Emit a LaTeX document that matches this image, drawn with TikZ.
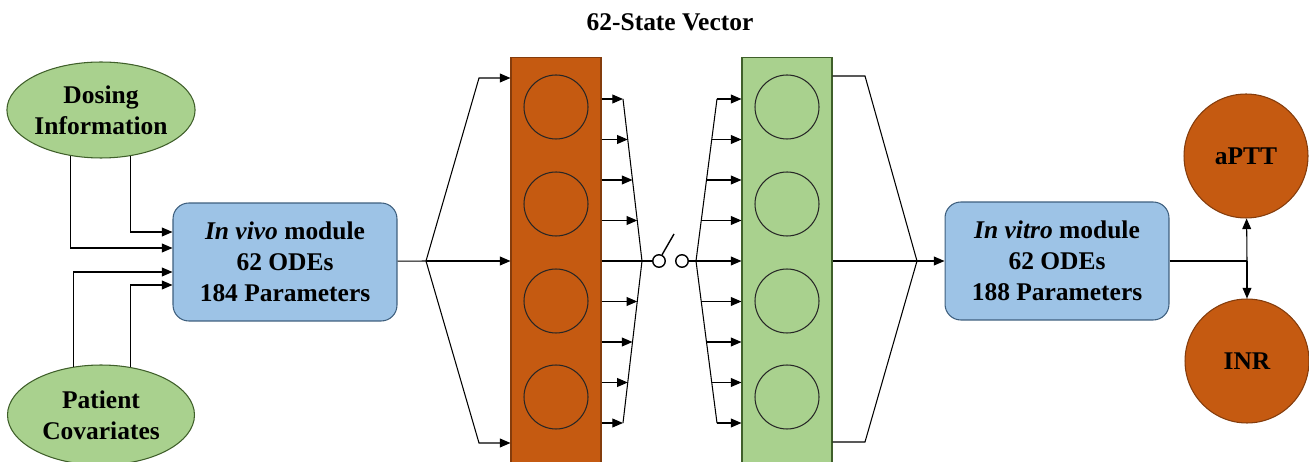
\documentclass[tikz,border=0pt]{standalone}
\usepackage{fontspec}
\setmainfont{Liberation Serif}
\usetikzlibrary{arrows.meta,shapes.geometric,calc}
\definecolor{rust}{HTML}{C55A11}
\definecolor{rustdark}{HTML}{843C0C}
\definecolor{leaf}{HTML}{A9D18E}
\definecolor{leafdark}{HTML}{3F5F2A}
\definecolor{sky}{HTML}{9DC3E6}
\definecolor{skydark}{HTML}{3E5F7E}
\begin{document}
\begin{tikzpicture}[x=0.02cm,y=-0.02cm,>={Triangle[length=6pt,width=5pt]},line width=0.6pt,
  font=\fontsize{14.5}{17.6}\selectfont\bfseries,
  input/.style={ellipse,draw=leafdark,fill=leaf,minimum width=3.74cm,minimum height=1.92cm,inner sep=0pt,align=center},
  module/.style={draw=skydark,fill=sky,rounded corners=9pt,minimum width=4.48cm,minimum height=2.36cm,align=center},
  vec/.style={draw,minimum width=1.8cm,minimum height=9.3cm,inner sep=0pt},
  cell/.style={circle,draw=black!85,minimum size=1.28cm,inner sep=0pt},
  result/.style={circle,draw=rustdark,fill=rust,minimum size=2.48cm,inner sep=0pt},
  pin/.style={circle,draw,line width=0.8pt,fill=white,minimum size=0.25cm,inner sep=0pt}]
\useasboundingbox (0,0) rectangle (1309,462);
\clip (0,0) rectangle (1309,462);
\node (title) at (670,22) {62-State Vector};
\node[input] (dosing) at (101,110) {Dosing\\Information};
\node[input,minimum height=2cm] (patient) at (101,415) {Patient\\Covariates};
\node[module] (invivo) at (285,262) {\textit{In vivo} module\\62 ODEs\\184 Parameters};
\node[vec,draw=rustdark,fill=rust] (ovec) at (556,290) {};
\node[vec,draw=leafdark,fill=leaf] (gvec) at (787,290) {};
\foreach \i/\y in {1/107,2/204,3/301,4/397}{
  \node[cell] (o\i) at (556,\y) {};
  \node[cell] (g\i) at (787,\y) {};
}
\node[module] (invitro) at (1057,261) {\textit{In vitro} module\\62 ODEs\\188 Parameters};
\node[result] (aptt) at (1246,156) {aPTT};
\node[result] (inr) at (1247,361) {INR};
\node[pin] (sw1) at (659,261) {};
\node[pin] (sw2) at (682,261) {};
\coordinate (lever) at (674,234);
% inputs into the in vivo module
\draw[->] (dosing.-57) |- ($(invivo.west)+(0,-30)$);
\draw[->] (dosing.-124) |- ($(invivo.west)+(0,-14)$);
\draw[->] (patient.120) |- ($(invivo.west)+(0,10)$);
\draw[->] (patient.58) |- ($(invivo.west)+(0,23)$);
% fan out to the state vector
\coordinate (ifork) at (426,261);
\coordinate (itop) at (479,78);
\coordinate (ibot) at (479,443);
\draw (invivo) -- (ifork);
\draw[->] (ifork) -- (itop) -- (ovec.west |- itop);
\draw[->] (ifork) -- (ovec.west |- ifork);
\draw[->] (ifork) -- (ibot) -- (ovec.west |- ibot);
% collect the states, switch
\coordinate (omid) at (642,261);
\coordinate (otop) at (623,99);
\coordinate (obot) at (623,423);
\draw (otop) -- (omid) -- (obot);
\foreach \k in {1,...,4}{
  \path ($(omid)!\k/4!(otop)$) coordinate (p);
  \draw[->] (ovec.east |- p) -- (p);
  \path ($(omid)!\k/4!(obot)$) coordinate (p);
  \draw[->] (ovec.east |- p) -- (p);
}
\draw (ovec.east |- sw1) -- (sw1);
\draw[line width=0.8pt] (sw1.64) -- (lever);
\coordinate (gmid) at (696,261);
\coordinate (gtop) at (717,99);
\coordinate (gbot) at (717,423);
\draw (gtop) -- (gmid) -- (gbot);
\draw[->] (sw2) -- (gvec.west |- sw2);
\foreach \k in {1,...,4}{
  \path ($(gmid)!\k/4!(gtop)$) coordinate (p);
  \draw[->] (p) -- (gvec.west |- p);
  \path ($(gmid)!\k/4!(gbot)$) coordinate (p);
  \draw[->] (p) -- (gvec.west |- p);
}
% into the in vitro module
\coordinate (vtop) at (865,76);
\coordinate (vbot) at (865,442);
\coordinate (vfork) at (917,261);
\draw (gvec.east |- vtop) -- (vtop) -- (vfork) -- (vbot) -- (gvec.east |- vbot);
\draw (gvec.east |- vfork) -- (vfork);
\draw[->] (vfork) -- (invitro);
% outputs
\coordinate (ofork) at (1247,261);
\draw (invitro) -- (ofork);
\draw[->] (ofork) -- (aptt);
\draw[->] (ofork) -- (inr);
\end{tikzpicture}
\end{document}
